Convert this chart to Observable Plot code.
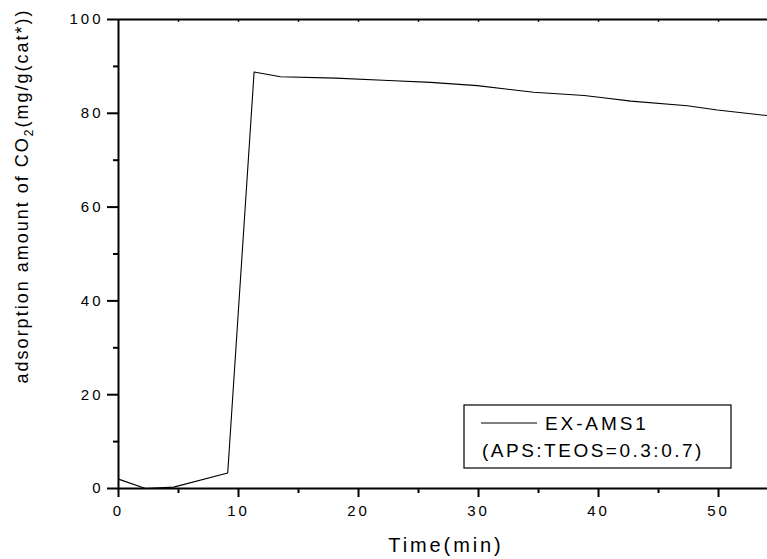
<!DOCTYPE html>
<html><head><meta charset="utf-8">
<script src="https://cdn.jsdelivr.net/npm/d3@7"></script>
<script src="https://cdn.jsdelivr.net/npm/@observablehq/plot@0.6"></script>
<style>
body{margin:0;background:#fff}
#chart svg text{letter-spacing:3px}
</style>
</head><body><div id="chart"></div>
<script>
// ---- data ----
const time       = [0, 2.25, 4.6, 9.1, 11.3, 13.5, 18.1, 22.5, 26.0, 29.9, 34.6, 38.8, 40.4, 42.7, 47.4, 49.9, 54.1];
const adsorption = [2.0, 0, 0.3, 3.3, 88.8, 87.8, 87.5, 87.0, 86.6, 85.9, 84.5, 83.8, 83.3, 82.6, 81.6, 80.7, 79.5];
const xTicks = [0, 10, 20, 30, 40, 50];
const xMinor = [5, 15, 25, 35, 45];
const xTop   = [5, 10, 15, 20, 25, 30, 35, 40, 45, 50];
const yTicks = [0, 20, 40, 60, 80, 100];
const yMinor = [10, 30, 50, 70, 90];
const xTitle = "Time(min)";
const yTitleA = "adsorption amount of CO";
const yTitleSub = "2";
const yTitleB = "(mg/g(cat*))";
const seriesName = "EX-AMS1";
const seriesNote = "(APS:TEOS=0.3:0.7)";

const data = time.map((t, i) => ({t, v: adsorption[i]}));
const font = "'Liberation Sans', Arial, sans-serif";

const plot = Plot.plot({
  width: 767, height: 559,
  marginLeft: 118, marginRight: 0, marginTop: 19, marginBottom: 71,
  style: {fontFamily: font, fontSize: "15px", color: "#000", background: "#fff", overflow: "visible"},
  x: {domain: [0, 54.08]},
  y: {domain: [0, 100]},
  marks: [
    Plot.axisX(xTicks, {tickSize: 9, tickPadding: 8, strokeWidth: 2, label: null, fontSize: 15}),
    Plot.axisX(xMinor, {tickSize: 5, strokeWidth: 2, text: null, label: null}),
    Plot.axisY(yTicks, {tickSize: 11, tickPadding: 4, strokeWidth: 2, label: null, fontSize: 15}),
    Plot.axisY(yMinor, {tickSize: 5, strokeWidth: 2, text: null, label: null}),
    Plot.ruleX(xTop, {y1: 100, y2: 99.4, strokeWidth: 1.5}),
    Plot.ruleY([0], {strokeWidth: 2}),
    Plot.ruleY([100], {strokeWidth: 2}),
    Plot.ruleX([0], {strokeWidth: 2}),
    Plot.line(data, {x: "t", y: "v", stroke: "#000", strokeWidth: 1.1})
  ]
});
document.getElementById("chart").append(plot);

const svg = d3.select(plot);
// x title
svg.append("text")
  .attr("x", 446).attr("y", 552)
  .attr("text-anchor", "middle")
  .style("font-size", "20px").style("letter-spacing", "2.9px")
  .attr("fill", "#000")
  .text(xTitle);
// y title
const yt = svg.append("text")
  .attr("transform", "translate(28,196) rotate(-90)")
  .attr("text-anchor", "middle")
  .style("font-size", "18px").style("letter-spacing", "2px")
  .attr("fill", "#000");
yt.append("tspan").text(yTitleA);
yt.append("tspan").attr("dy", 5).style("font-size", "12px").text(yTitleSub);
yt.append("tspan").attr("dy", -5).text(yTitleB);

// legend
const lg = svg.append("g").attr("text-anchor", "start");
lg.append("rect").attr("x", 464).attr("y", 405).attr("width", 267).attr("height", 63)
  .attr("fill", "#fff").attr("stroke", "#000").attr("stroke-width", 1.2);
lg.append("line").attr("x1", 481).attr("x2", 537).attr("y1", 423).attr("y2", 423)
  .attr("stroke", "#000").attr("stroke-width", 1);
lg.append("text").attr("x", 545).attr("y", 430).attr("text-anchor", "start")
  .style("font-size", "19px").style("letter-spacing", "2.9px").attr("fill", "#000")
  .text(seriesName);
lg.append("text").attr("x", 482).attr("y", 457).attr("text-anchor", "start")
  .style("font-size", "19px").style("letter-spacing", "2.5px").attr("fill", "#000")
  .text(seriesNote);
</script>
</body></html>
